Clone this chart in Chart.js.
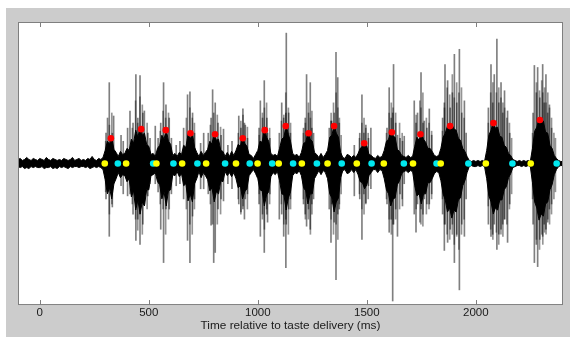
<!DOCTYPE html>
<html lang="en">
<head>
<meta charset="UTF-8">
<title>EMG bursts after taste delivery</title>
<script src="https://cdn.jsdelivr.net/npm/chart.js@4"></script>
<style>
  body { margin: 0; background: #fff; }
  #wrap { width: 570px; height: 337px; }
</style>
</head>
<body>
<div id="wrap"><canvas id="emg" width="570" height="337"></canvas></div>
<script>
// EMG trace, stored as a min/max envelope sampled every 10 ms
const envStart = -100
const envStep = 10
const envHi = [
  4, 5, 3, 4, 6, 4, 3, 5, 4, 3,
  5, 4, 3, 6, 4, 3, 5, 4, 3, 4,
  3, 5, 4, 3, 4, 6, 3, 4, 5, 3,
  4, 3, 5, 4, 7, 4, 3, 5, 4, 6,
  13, 22, 19, 26, 14, 11, 7, 12, 9, 10,
  15, 13, 24, 20, 33, 26, 36, 28, 30, 19,
  17, 9, 10, 7, 15, 18, 28, 24, 34, 22,
  19, 8, 10, 7, 11, 9, 18, 16, 29, 24,
  30, 16, 11, 7, 12, 8, 11, 14, 22, 19,
  31, 23, 24, 13, 12, 7, 11, 7, 12, 8,
  13, 19, 17, 26, 20, 17, 9, 8, 5, 9,
  13, 22, 21, 34, 26, 22, 10, 8, 9, 7,
  15, 24, 26, 38, 29, 22, 10, 8, 9, 6,
  11, 20, 21, 31, 24, 22, 11, 9, 6, 10,
  6, 9, 13, 26, 28, 38, 30, 26, 11, 6,
  5, 9, 8, 6, 8, 6, 10, 15, 17, 21,
  17, 9, 8, 6, 5, 8, 6, 7, 13, 22,
  24, 32, 27, 26, 14, 12, 8, 7, 6, 8,
  6, 7, 17, 26, 23, 30, 24, 21, 15, 15,
  12, 8, 7, 8, 15, 26, 30, 37, 33, 39,
  34, 33, 25, 23, 15, 12, 7, 3, 2, 3,
  2, 3, 2, 3, 2, 13, 28, 33, 41, 35,
  36, 27, 26, 18, 16, 10, 8, 4, 3, 2,
  3, 2, 3, 2, 3, 2, 15, 32, 36, 45,
  41, 42, 31, 30, 18, 15, 8, 5, 3, 2,
  2
]
const envLo = [
  -3, -4, -3, -5, -4, -5, -3, -4, -3, -4,
  -4, -3, -5, -4, -4, -3, -5, -4, -5, -3,
  -4, -3, -4, -5, -3, -4, -3, -3, -4, -3,
  -3, -4, -3, -5, -4, -3, -4, -3, -4, -6,
  -16, -30, -24, -35, -20, -15, -9, -14, -11, -12,
  -18, -15, -33, -27, -46, -36, -50, -38, -42, -26,
  -26, -12, -11, -9, -18, -21, -35, -28, -42, -27,
  -26, -11, -12, -8, -13, -10, -22, -20, -37, -30,
  -38, -20, -15, -8, -14, -9, -12, -16, -27, -24,
  -38, -28, -30, -17, -18, -8, -12, -9, -13, -9,
  -15, -24, -22, -35, -28, -25, -12, -9, -6, -10,
  -15, -26, -27, -42, -31, -28, -13, -9, -11, -8,
  -17, -30, -31, -46, -34, -28, -12, -9, -10, -7,
  -12, -24, -27, -40, -30, -30, -15, -11, -7, -11,
  -7, -9, -15, -30, -34, -48, -38, -34, -14, -7,
  -6, -10, -9, -6, -9, -6, -11, -18, -19, -25,
  -21, -12, -9, -6, -6, -9, -6, -7, -15, -26,
  -30, -42, -35, -34, -21, -17, -10, -8, -7, -9,
  -7, -8, -22, -32, -30, -40, -30, -30, -19, -19,
  -15, -10, -8, -9, -17, -30, -36, -48, -44, -54,
  -46, -48, -36, -34, -22, -17, -9, -3, -2, -3,
  -3, -2, -3, -2, -3, -15, -32, -38, -50, -44,
  -46, -36, -36, -26, -23, -14, -10, -4, -3, -2,
  -2, -3, -2, -3, -2, -3, -19, -38, -44, -56,
  -50, -52, -40, -38, -26, -21, -11, -6, -3, -2,
  -2
]

// Largest single deflections (ms, top, bottom)
const spikeT = [
  306, 313, 321, 335, 341, 375, 385, 405,
  416, 430, 443, 452, 462, 475, 482, 498, 508,
  532, 545, 557, 570, 581, 596, 606, 628, 645,
  662, 680, 691, 703, 712, 740, 754,
  775, 788, 795, 800, 807, 820, 834, 845, 865, 884,
  915, 925, 934, 941, 945, 955,
  1008, 1014, 1024, 1032, 1044, 1047, 1058,
  1101, 1112, 1121, 1131, 1133, 1144, 1152,
  1212, 1220, 1226, 1235, 1243, 1250, 1258,
  1330, 1338, 1341, 1353, 1361, 1369, 1376, 1445,
  1470, 1480, 1489, 1498, 1510, 1521,
  1595, 1605, 1614, 1621, 1625, 1635, 1643, 1655, 1666, 1674,
  1720, 1728, 1735, 1751, 1760, 1766, 1778, 1789, 1800,
  1850, 1858, 1861, 1873, 1885, 1895, 1904, 1915, 1927, 1938, 1950, 1958,
  2060, 2072, 2080, 2087, 2099, 2108, 2118, 2126, 2134, 2148, 2158,
  2265, 2271, 2280, 2286, 2296, 2309, 2316, 2324, 2332, 2340, 2350
]
const spikeHi = [
  30, 45, 80, 30, 47, 28, 22, 35,
  52, 40, 88, 45, 87, 50, 52, 30, 25,
  37, 25, 40, 80, 58, 45, 25, 18, 22,
  35, 68, 71, 50, 30, 20, 30,
  30, 45, 73, 50, 60, 40, 28, 34, 18, 22,
  47, 35, 54, 40, 38, 25,
  35, 62, 45, 82, 45, 30, 25,
  30, 60, 45, 50, 129, 50, 30,
  35, 45, 88, 50, 80, 35, 30,
  35, 42, 42, 50, 110, 85, 40, 18,
  30, 68, 30, 38, 25, 35,
  35, 75, 45, 50, 98, 40, 28, 25, 22, 27,
  62, 40, 50, 90, 40, 42, 35, 54, 28,
  45, 60, 98, 82, 55, 70, 108, 60, 113, 50, 62, 30,
  55, 98, 60, 88, 123, 60, 80, 50, 72, 52, 30,
  50, 97, 70, 95, 65, 98, 60, 88, 50, 58, 35
]
const spikeLo = [
  -35, -25, -72, -43, -20, -22, -30, -32,
  -30, -50, -76, -55, -80, -60, -40, -32, -20,
  -20, -28, -65, -98, -45, -45, -30, -22, -20,
  -35, -76, -98, -52, -35, -25, -25,
  -30, -61, -60, -98, -88, -45, -35, -37, -20, -25,
  -40, -48, -45, -55, -35, -30,
  -40, -72, -50, -88, -50, -58, -30,
  -55, -50, -72, -103, -60, -45, -35,
  -40, -50, -62, -45, -65, -40, -35,
  -45, -78, -40, -58, -115, -50, -45, -32,
  -35, -75, -30, -39, -22, -25,
  -40, -68, -55, -136, -60, -45, -72, -30, -42, -20,
  -50, -68, -40, -45, -50, -35, -40, -40, -30,
  -50, -86, -60, -78, -65, -60, -98, -70, -125, -60, -72, -35,
  -60, -72, -70, -60, -85, -70, -65, -60, -55, -78, -40,
  -60, -98, -80, -102, -75, -72, -60, -65, -58, -45, -40
]

// Medium deflections filling out each burst
const hairT = [
  300, 317, 328,
  422, 437, 447, 457, 468, 490,
  550, 563, 575, 588,
  670, 686, 697, 707,
  780, 812, 827,
  908, 920, 930, 950,
  1004, 1019, 1028, 1038, 1052,
  1106, 1117, 1126, 1138, 1148,
  1207, 1216, 1230, 1239, 1246,
  1334, 1345, 1357, 1365, 1372, 1380,
  1464, 1475, 1485, 1493, 1504,
  1588, 1600, 1610, 1618, 1630, 1648, 1660,
  1724, 1741, 1746, 1755, 1771, 1783, 1795,
  1845, 1854, 1866, 1878, 1890, 1899, 1910, 1920, 1932, 1944,
  2055, 2066, 2076, 2092, 2103, 2113, 2122, 2130, 2140, 2152, 2162,
  2258, 2276, 2290, 2300, 2305, 2313, 2320, 2328, 2336, 2345, 2356, 2363
]
const hairHi = [
  22, 38, 50,
  35, 62, 40, 66, 58, 40,
  32, 52, 45, 50,
  45, 55, 45, 40,
  38, 48, 36,
  30, 42, 48, 36,
  28, 50, 55, 60, 35,
  42, 48, 70, 55, 40,
  30, 40, 60, 45, 52,
  50, 60, 70, 55, 45, 28,
  25, 40, 45, 35, 30,
  30, 50, 60, 55, 50, 40, 30,
  48, 62, 55, 70, 45, 40, 32,
  32, 55, 75, 68, 88, 65, 80, 70, 75, 45,
  40, 70, 80, 70, 75, 65, 60, 55, 45, 40, 25,
  30, 80, 72, 82, 70, 75, 60, 70, 55, 45, 30, 25
]
const hairLo = [
  -28, -50, -40,
  -40, -55, -66, -50, -70, -45,
  -40, -45, -70, -55,
  -45, -60, -70, -45,
  -40, -60, -50,
  -35, -50, -42, -45,
  -30, -55, -65, -45, -40,
  -40, -60, -55, -70, -45,
  -35, -55, -55, -70, -50,
  -55, -70, -60, -75, -40, -30,
  -30, -45, -50, -40, -35,
  -35, -55, -70, -60, -55, -45, -35,
  -45, -58, -60, -62, -50, -45, -35,
  -35, -60, -70, -75, -70, -80, -72, -85, -70, -55,
  -42, -65, -75, -68, -80, -70, -72, -55, -60, -45, -30,
  -35, -75, -85, -70, -80, -68, -70, -55, -60, -50, -35, -28
]

// Lick cycle markers (ms) and envelope peak amplitude
const onsetT = [298, 396, 535, 653, 763, 900, 999, 1096, 1202, 1320, 1454, 1578, 1712, 1839, 2046, 2252]
const offsetT = [358, 520, 613, 723, 850, 963, 1066, 1162, 1271, 1385, 1522, 1670, 1820, 1966, 2168, 2371]
const peakT = [326, 465, 578, 691, 804, 931, 1032, 1128, 1233, 1350, 1488, 1615, 1746, 1882, 2081, 2294]
const peakAmp = [25, 34, 33, 30, 29, 25, 33, 37, 30, 37, 20, 31, 29, 37, 40, 43]

const tickVals = [0, 500, 1000, 1500, 2000]

const envT = envHi.map((_, i) => envStart + i * envStep)

// grey figure, white axes box, inward ticks on top and bottom
const frame = {
    id: "frame",
    beforeDraw(chart) {
        const { ctx, chartArea: a } = chart
        ctx.save()
        ctx.fillStyle = "#fff"
        ctx.fillRect(0, 0, chart.width, chart.height)
        ctx.fillStyle = "#cccccc"
        ctx.fillRect(6, 8, chart.width - 6, chart.height - 8)
        ctx.fillStyle = "#fff"
        ctx.fillRect(a.left, a.top, a.right - a.left, a.bottom - a.top)
        ctx.restore()
    },
    afterDatasetsDraw(chart) {
        const { ctx, chartArea: a } = chart
        const xs = chart.scales.x
        ctx.save()
        ctx.strokeStyle = "#7f7f7f"
        ctx.lineWidth = 1
        ctx.strokeRect(a.left + 0.5, a.top + 0.5, a.right - a.left - 1, a.bottom - a.top - 1)
        ctx.beginPath()
        tickVals.forEach(v => {
            const px = Math.round(xs.getPixelForValue(v)) + 0.5
            ctx.moveTo(px, a.bottom)
            ctx.lineTo(px, a.bottom - 5)
            ctx.moveTo(px, a.top)
            ctx.lineTo(px, a.top + 5)
        })
        ctx.stroke()
        ctx.restore()
    }
}

const dot = (color) => ({
    type: "scatter",
    pointRadius: 3.3,
    pointBackgroundColor: color,
    pointBorderWidth: 0,
    order: 0
})

const floatBars = (ts, hi, lo, color, order) => ({
    type: "bar",
    data: ts.map((t, i) => ({ x: t, y: [lo[i], hi[i]] })),
    backgroundColor: color,
    borderWidth: 0,
    barThickness: 1,
    order: order
})

new Chart(document.getElementById("emg"), {
    type: "line",
    data: {
        datasets: [
            {
                data: envT.map((t, i) => ({ x: t, y: envLo[i] })),
                borderColor: "#000",
                borderWidth: 1,
                pointRadius: 0,
                order: 3
            },
            {
                data: envT.map((t, i) => ({ x: t, y: envHi[i] })),
                borderColor: "#000",
                borderWidth: 1,
                backgroundColor: "#000",
                fill: "-1",
                pointRadius: 0,
                order: 3
            },
            floatBars(spikeT, spikeHi, spikeLo, "rgba(0,0,0,0.5)", 1),
            floatBars(hairT, hairHi, hairLo, "rgba(0,0,0,0.42)", 2),
            { ...dot("#ff0000"), data: peakT.map((t, i) => ({ x: t, y: peakAmp[i] })) },
            { ...dot("#ffff00"), data: onsetT.map(t => ({ x: t, y: 0 })) },
            { ...dot("#00e8f0"), data: offsetT.map(t => ({ x: t, y: 0 })) }
        ]
    },
    options: {
        responsive: false,
        animation: false,
        events: [],
        layout: { padding: { left: 18, right: 7, top: 22, bottom: 4 } },
        plugins: { legend: { display: false }, tooltip: { enabled: false } },
        scales: {
            x: {
                type: "linear",
                min: -100,
                max: 2400,
                offset: false,
                grid: { display: false, drawTicks: false },
                border: { display: false },
                afterBuildTicks: s => { s.ticks = tickVals.map(v => ({ value: v })) },
                ticks: {
                    padding: 1,
                    maxRotation: 0,
                    color: "#1a1a1a",
                    font: { family: "Liberation Sans", size: 11.5 },
                    callback: v => String(v)
                },
                title: {
                    display: true,
                    text: "Time relative to taste delivery (ms)",
                    color: "#1a1a1a",
                    padding: { top: -2, bottom: 0 },
                    font: { family: "Liberation Sans", size: 11.8 }
                }
            },
            y: {
                display: false,
                min: -140,
                max: 140
            }
        }
    },
    plugins: [frame]
})
</script>
</body>
</html>
